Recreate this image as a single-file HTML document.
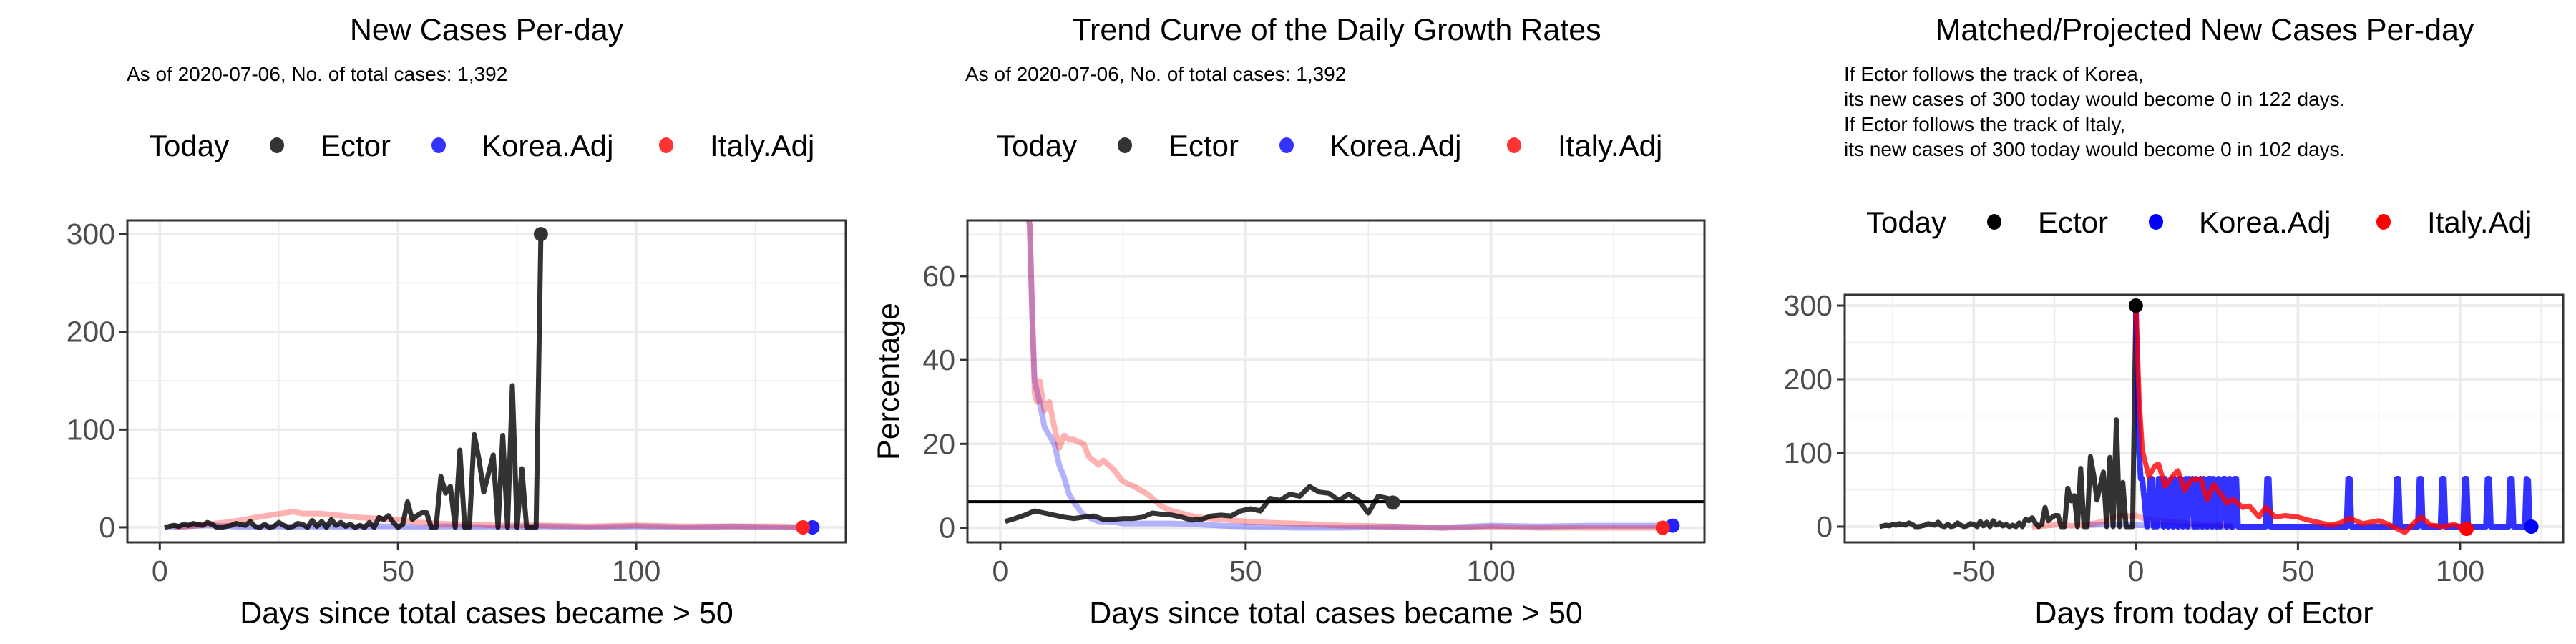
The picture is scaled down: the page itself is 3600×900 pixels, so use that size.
<!DOCTYPE html>
<html><head><meta charset="utf-8">
<style>
html,body{margin:0;padding:0;background:#fff;}
svg{display:block;font-family:"Liberation Sans",Arial,sans-serif;}
</style></head>
<body>
<svg id="chart" width="3600" height="900" viewBox="0 0 3600 900" xmlns="http://www.w3.org/2000/svg">
<rect width="3600" height="900" fill="#fff"/>
<g id="root"></g>
</svg>
<script>
// ---------- Panel 1: new cases per day ----------
const ectorDays = [1,2,3,4,5,6,7,8,9,10,11,12,13,14,15,16,17,18,19,20,21,22,23,24,25,26,27,28,29,30,31,32,33,34,35,36,37,38,39,40,41,42,43,44,45,46,47,48,49,50,51,52,53,54,55,56,57,58,59,60,61,62,63,64,65,66,67,68,69,70,71,72,73,74,75,76,77,78,79,80];
const ectorCases = [0,1,2,1,3,2,4,3,2,5,3,0,0,1,2,4,3,2,6,1,0,3,0,1,5,2,0,1,4,3,0,7,1,6,0,8,2,5,1,3,0,2,0,5,0,10,8,12,5,0,3,26,8,12,15,15,0,0,52,35,42,0,79,0,0,95,70,36,55,74,0,94,0,145,0,60,0,0,0,300];
const koreaDays1 = [2,5,10,15,20,25,30,35,40,45,50,55,60,70,80,90,100,110,120,130,137];
const koreaCases1 = [0,1,2,1,0,1,0,1,0,1,1,0,1,0,1,0,1,0,1,0,0];
const italyDays1 = [3,6,10,14,18,20,24,28,30,34,38,42,46,50,54,58,62,66,70,75,80,90,100,110,120,130,135];
const italyCases1 = [0,1,3,5,8,10,13,16,14,14,12,10,9,8,5,4,3,3,2,2,2,1,2,1,1,1,0];
// ---------- Panel 2: growth rates ----------
const ectorGrowthDays = [1,3,5,7,9,11,13,15,17,19,21,23,25,27,29,31,33,35,37,39,41,43,45,47,49,51,53,55,57,59,61,63,65,67,69,71,73,75,77,79,80];
const ectorGrowth = [1.5,2.2,3,4,3.5,3,2.5,2.2,2.5,2.8,2,2,2.2,2.2,2.5,3.5,3.2,3,2.5,1.8,2,2.8,3,2.8,4,4.5,4,7,6.5,8,7.5,9.8,8.5,8.2,6.5,8,6.5,3.5,7.5,7,6];
const koreaGrowthDays = [5,6,6.5,7,8,9,10,11,12,13,14,15,17,19,20,22,25,30,35,40,45,50,60,70,80,90,100,110,120,130,137];
const koreaGrowth = [80,72,50,35,30,24,22,20,15,12,8,6,3,2,1.5,1.5,1,1,1,0.8,0.5,0.3,0,0,0.2,0,0.5,0.3,0.5,0.5,0.5];
const italyGrowthDays = [5,6,7,7.5,8,9,10,11,12,13,14,15,17,18,20,21,23,25,27,30,33,35,40,45,50,55,60,70,80,90,100,110,120,130,135];
const italyGrowth = [80,72,32,30,35,28,30,24,19,22,21,21,20,17,15,16,14,11,10,8,5,4,2.5,2,1.5,1.2,1,0.5,0.3,0,0.2,0,0,0,0];
const refGrowth = [6.2];
// ---------- Panel 3: matched / projected ----------
const ectorShift = [-80];
const koreaProjDays = [0,1,1.5,2,3,3.5,4,4.5,5,5.5,6,6.5,7,7.5,8,8.5,9,9.5,10,10.5,11,11.5,12,12.5,13,13.5,14,14.5,15,15.5,16,16.5,17,17.5,18,18.5,19,19.5,20,20.5,21,21.5,22,22.5,23,23.5,24,24.5,25,25.5,26,26.5,27,27.5,28,28.5,29,29.5,30,30.5,31,31.5,32,40,40.5,41,41.5,42,65,65.5,66,66.5,67,80,80.5,81,81.5,82,87,87.5,88,88.5,89,94,94.5,95,95.5,96,101,101.5,102,102.5,103,108,108.5,109,109.5,110,115,115.5,116,116.5,117,120,120.5,121,121.5,122];
const koreaProj = [300,100,65,65,20,0,30,65,65,0,40,0,65,20,65,0,65,30,0,50,65,0,65,20,0,65,65,0,30,65,0,65,20,65,0,65,0,40,65,0,65,10,0,65,65,0,65,20,0,65,0,30,65,65,0,10,65,0,0,65,65,0,0,0,65,65,0,0,0,65,65,0,0,0,65,65,0,0,0,65,65,0,0,0,65,65,0,0,0,65,65,0,0,0,65,65,0,0,0,65,65,0,0,0,65,63,0,0];
const italyProjDays = [0,1,2,4,6,7,9,12,13,15,17,20,22,24,27,28,30,33,35,38,40,43,46,50,53,56,60,63,66,70,75,78,83,86,88,91,95,98,102];
const italyProj = [300,174,104,68,83,85,55,72,76,49,63,65,37,57,39,32,37,26,28,13,26,13,15,13,9,6,2,5,11,4,8,3,-8,6,13,2,0,3,-3];
const italyPastDays = [-32,-28,-24,-20,-16,-12,-8,-5,-2,0,3,6,10,15,20,30];
const italyPast = [0,1,3,1,2,5,10,15,14,15,10,8,7,5,3,1];
const koreaPastDays = [-15,-10,-5,0,10,20,30];
const koreaPast = [2,3,3,2,1,0,0];

const NS = "http://www.w3.org/2000/svg";
const root = document.getElementById('root');
function mk(tag, attrs, parent){const e=document.createElementNS(NS,tag);for(const k in attrs)e.setAttribute(k,attrs[k]);(parent||root).appendChild(e);return e;}
function txt(s, attrs, parent){const e=mk('text',attrs,parent);e.textContent=s;return e;}

function panel(cfg){
  const g = mk('g',{});
  
  
  const X = v => cfg.x0 + (v - cfg.xmin)/(cfg.xmax-cfg.xmin)*(cfg.x1-cfg.x0);
  const Y = v => cfg.y1 - (v - cfg.ymin)/(cfg.ymax-cfg.ymin)*(cfg.y1-cfg.y0);
  const grid = mk('g',{},g);
  
  
  cfg.xMinor.forEach(v=>mk('line',{x1:X(v),x2:X(v),y1:cfg.y0,y2:cfg.y1,stroke:'#ebebeb','stroke-width':1.5},grid));
  cfg.yMinor.forEach(v=>mk('line',{x1:cfg.x0,x2:cfg.x1,y1:Y(v),y2:Y(v),stroke:'#ebebeb','stroke-width':1.5},grid));
  cfg.xTicks.forEach(v=>mk('line',{x1:X(v),x2:X(v),y1:cfg.y0,y2:cfg.y1,stroke:'#ebebeb','stroke-width':3.5},grid));
  cfg.yTicks.forEach(v=>mk('line',{x1:cfg.x0,x2:cfg.x1,y1:Y(v),y2:Y(v),stroke:'#ebebeb','stroke-width':3.5},grid));
  const cid = cfg.name+'-clip';
  const cp = mk('clipPath',{id:cid},g); mk('rect',{x:cfg.x0,y:cfg.y0,width:cfg.x1-cfg.x0,height:cfg.y1-cfg.y0},cp);
  const plot = mk('g',{'clip-path':`url(#${cid})`},g);
  cfg.series.forEach(s=>{
    const d = s.xs.map((x,i)=>(i?'L':'M')+X(x+(s.shift||0)).toFixed(1)+' '+Y(s.ys[i]).toFixed(1)).join(' ');
    const p = mk('path',{d:d,fill:'none',stroke:s.color,'stroke-opacity':s.op,'stroke-width':s.w||7,'stroke-linejoin':'round'},plot);
    
    
  });
  (cfg.hlines||[]).forEach(v=>{
    const l = mk('line',{x1:cfg.x0,x2:cfg.x1,y1:Y(v),y2:Y(v),stroke:'#000','stroke-width':4},plot);
    
    
  });
  cfg.dots.forEach(dt=>{
    const c = mk('circle',{cx:X(dt.x),cy:Y(dt.y),r:10,fill:dt.color},plot);
    
    
  });
  mk('rect',{x:cfg.x0,y:cfg.y0,width:cfg.x1-cfg.x0,height:cfg.y1-cfg.y0,fill:'none',stroke:'#333','stroke-width':3},g);
  cfg.xTicks.forEach(v=>{
    mk('line',{x1:X(v),x2:X(v),y1:cfg.y1,y2:cfg.y1+11,stroke:'#333','stroke-width':3},g);
    const t = txt(String(v),{x:X(v),y:812,'text-anchor':'middle','font-size':41,fill:'#4d4d4d'},g);
    
    
  });
  cfg.yTicks.forEach(v=>{
    mk('line',{x1:cfg.x0-11,x2:cfg.x0,y1:Y(v),y2:Y(v),stroke:'#333','stroke-width':3},g);
    const t = txt(String(v),{x:cfg.x0-17,y:Y(v)+14,'text-anchor':'end','font-size':41,fill:'#4d4d4d'},g);
    
    
  });
  const xt = txt(cfg.xTitle,{x:(cfg.x0+cfg.x1)/2,y:871,'text-anchor':'middle','font-size':43,fill:'#000'},g);
  
  
  if(cfg.yTitle){
    const yt = txt(cfg.yTitle,{x:0,y:0,'text-anchor':'middle','font-size':43,fill:'#000',transform:`translate(1256,${(cfg.y0+cfg.y1)/2}) rotate(-90)`},g);
    
    
  }
  const tt = txt(cfg.title,{x:cfg.titleX,y:56,'text-anchor':'middle','font-size':43,fill:'#000'},g);
  
  
  cfg.sub.forEach((s,i)=>{
    const st = txt(s,{x:cfg.subX,y:113+i*35,'font-size':28,fill:'#000'},g);
    
    
  });
  const lg = mk('g',{},g);
  
  
  const o = cfg.legX, ly = cfg.legY;
  txt('Today',{x:o,y:ly,'font-size':42,fill:'#000'},lg);
  const items = [['Ector',cfg.legCols[0],179,240],['Korea.Adj',cfg.legCols[1],405,465],['Italy.Adj',cfg.legCols[2],723,784]];
  items.forEach(it=>{
    const e = mk('g',{},lg);
    
    
    mk('ellipse',{cx:o+it[2],cy:ly-15,rx:10,ry:11,fill:it[1]},e);
    txt(it[0],{x:o+it[3],y:ly,'font-size':42,fill:'#000'},e);
  });
}

const sub1 = ['As of 2020-07-06, No. of total cases: 1,392'];
panel({name:'panel-new-cases',x0:178,x1:1182,y0:308,y1:758,xmin:-6.8,xmax:144,ymin:-15.4,ymax:314,
  xTicks:[0,50,100],xMinor:[25,75,125],yTicks:[0,100,200,300],yMinor:[50,150,250],
  xTitle:'Days since total cases became > 50',title:'New Cases Per-day',titleX:680,sub:sub1,subX:177,
  legX:208,legY:218,legCols:['#333333','#3333ff','#ff3333'],
  series:[
    {name:'korea-adj-line',xs:koreaDays1,ys:koreaCases1,color:'#0000ff',op:0.3,w:8},
    {name:'italy-adj-line',xs:italyDays1,ys:italyCases1,color:'#ff0000',op:0.3,w:8},
    {name:'ector-line',xs:ectorDays,ys:ectorCases,color:'#000',op:0.8}],
  dots:[{name:'ector-today-dot',x:80,y:300,color:'#333'},{name:'korea-end-dot',x:137,y:0,color:'#2222ff'},{name:'italy-end-dot',x:135,y:0,color:'#ff2222'}]});

panel({name:'panel-growth-rates',x0:1352,x1:2382,y0:308,y1:758,xmin:-6.7,xmax:143.5,ymin:-3.5,ymax:73.3,
  xTicks:[0,50,100],xMinor:[25,75,125],yTicks:[0,20,40,60],yMinor:[10,30,50,70],
  xTitle:'Days since total cases became > 50',yTitle:'Percentage',title:'Trend Curve of the Daily Growth Rates',titleX:1868,sub:sub1,subX:1349,
  legX:1393,legY:218,legCols:['#333333','#3333ff','#ff3333'],hlines:refGrowth,
  series:[
    {name:'korea-adj-growth',xs:koreaGrowthDays,ys:koreaGrowth,color:'#0000ff',op:0.3,w:8},
    {name:'italy-adj-growth',xs:italyGrowthDays,ys:italyGrowth,color:'#ff0000',op:0.3,w:8},
    {name:'ector-growth',xs:ectorGrowthDays,ys:ectorGrowth,color:'#000',op:0.8}],
  dots:[{name:'ector-today-dot',x:80,y:6,color:'#333'},{name:'korea-end-dot',x:137,y:0.5,color:'#2222ff'},{name:'italy-end-dot',x:135,y:0,color:'#ff2222'}]});

panel({name:'panel-projected',x0:2578,x1:3582,y0:412,y1:758,xmin:-89.8,xmax:131.8,ymin:-21.4,ymax:314.6,
  xTicks:[-50,0,50,100],xMinor:[-75,-25,25,75,125],yTicks:[0,100,200,300],yMinor:[50,150,250],
  xTitle:'Days from today of Ector',title:'Matched/Projected New Cases Per-day',titleX:3081,
  sub:['If Ector follows the track of Korea,','its new cases of 300 today would become 0 in 122 days.','If Ector follows the track of Italy,','its new cases of 300 today would become 0 in 102 days.'],subX:2577,
  legX:2608,legY:325,legCols:['#000','#0000ff','#ff0000'],
  series:[
    {name:'korea-past-line',xs:koreaPastDays,ys:koreaPast,color:'#0000ff',op:0.3,w:8},
    {name:'italy-past-line',xs:italyPastDays,ys:italyPast,color:'#ff0000',op:0.3,w:8},
    {name:'ector-line',xs:ectorDays,ys:ectorCases,color:'#000',op:0.8,shift:ectorShift[0]},
    {name:'korea-projection',xs:koreaProjDays,ys:koreaProj,color:'#0000ff',op:0.8,w:8},
    {name:'italy-projection',xs:italyProjDays,ys:italyProj,color:'#ff0000',op:0.8,w:7}],
  dots:[{name:'ector-today-dot',x:0,y:300,color:'#000'},{name:'korea-end-dot',x:122,y:0,color:'#0000ff'},{name:'italy-end-dot',x:102,y:-3,color:'#ff0000'}]});
</script>
</body></html>
